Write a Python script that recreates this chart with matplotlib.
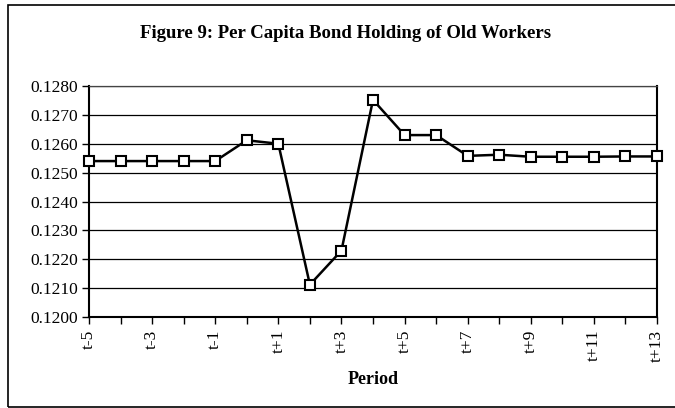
import matplotlib
matplotlib.use("Agg")
import matplotlib.pyplot as plt
from matplotlib.patches import Rectangle

# Periodos t-5 .. t+13
periodos = ["t-5", "t-4", "t-3", "t-2", "t-1", "t", "t+1", "t+2", "t+3", "t+4",
            "t+5", "t+6", "t+7", "t+8", "t+9", "t+10", "t+11", "t+12", "t+13"]
bond_old = [0.12540, 0.12540, 0.12540, 0.12540, 0.12540, 0.12612, 0.12600,
            0.12112, 0.12230, 0.12752, 0.12630, 0.12630, 0.12558, 0.12562,
            0.12555, 0.12555, 0.12555, 0.12556, 0.12556]
yticks = [0.1200, 0.1210, 0.1220, 0.1230, 0.1240, 0.1250, 0.1260, 0.1270, 0.1280]

plt.rcParams["font.family"] = ["Liberation Serif", "DejaVu Serif"]

fig = plt.figure(figsize=(6.75, 4.08), dpi=100)
W, H = 675, 408
ax = fig.add_axes([89 / W, 1 - 317 / H, (657 - 89) / W, (317 - 86) / H])

x = list(range(len(periodos)))
ax.plot(x, bond_old, color="black", linewidth=1.8, marker="s", markersize=6.5,
        markerfacecolor="white", markeredgecolor="black", markeredgewidth=1.5,
        zorder=3, clip_on=False)

ax.set_xlim(0, len(periodos) - 1)
ax.set_ylim(0.1200, 0.1280)
ax.set_yticks(yticks)
ax.set_yticklabels([f"{v:.4f}" for v in yticks], fontsize=12.5)
ax.set_xticks(x)
ax.set_xticklabels([p if i % 2 == 0 else "" for i, p in enumerate(periodos)],
                   rotation=90, fontsize=12.5)
ax.tick_params(axis="both", direction="out", length=5, width=1, color="black")
ax.tick_params(axis="x", pad=4)
ax.tick_params(axis="y", pad=3)

ax.grid(axis="y", color="black", linewidth=0.9)
ax.set_axisbelow(True)
for lado in ["left", "bottom", "right"]:
    ax.spines[lado].set_linewidth(1.5)
ax.spines["top"].set_linewidth(0.9)
ax.spines["top"].set_color("#444444")

fig.text(373 / W, 1 - 379 / H, "Period", ha="center", va="center",
         fontsize=13, fontweight="bold")
fig.text(346 / W, 1 - 33 / H, "Figure 9: Per Capita Bond Holding of Old Workers",
         ha="center", va="center", fontsize=13.5, fontweight="bold")

# Moldura externa do grafico
fig.patches.append(Rectangle((8 / W, 1 - 407 / H), (680 - 8) / W, (407 - 5) / H,
                             transform=fig.transFigure, fill=False,
                             edgecolor="black", linewidth=1.2))

fig.savefig("out.png", dpi=100, facecolor="white")
